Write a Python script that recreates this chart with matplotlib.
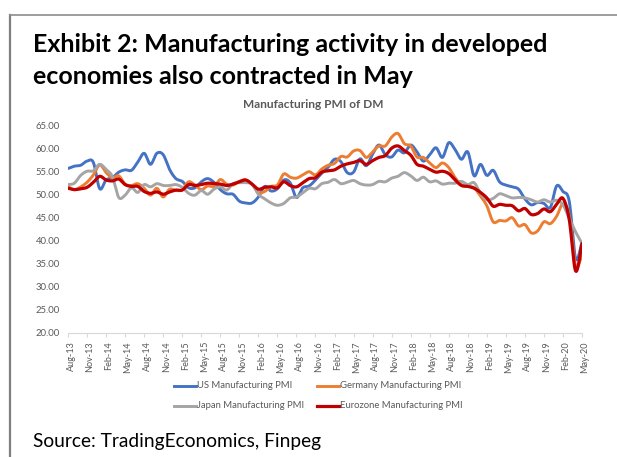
import numpy as np
import matplotlib
matplotlib.use("Agg")
import matplotlib.pyplot as plt
from matplotlib.lines import Line2D
from matplotlib.transforms import ScaledTranslation

# Monthly manufacturing PMI readings, Aug-13 .. May-20
us_pmi = [55.7, 56.2, 56.4, 57.3, 57.0,
          51.3, 53.2, 53.7, 54.9, 55.4, 55.3, 57.1, 59.0, 56.6, 59.0, 58.7, 55.5,
          53.5, 52.9, 51.5, 51.5, 52.8, 53.5, 52.7, 51.1, 50.2, 50.1, 48.6, 48.2,
          48.2, 49.5, 51.8, 50.8, 51.3, 53.2, 52.6, 49.4, 51.5, 51.9, 53.2, 54.7,
          56.0, 57.7, 57.2, 54.8, 54.9, 57.8, 56.3, 58.8, 60.8, 58.7, 58.2, 59.7,
          59.1, 60.8, 59.3, 57.3, 58.7, 60.2, 58.1, 61.3, 59.8, 57.7, 59.3, 54.1,
          56.6, 54.2, 55.3, 52.8, 52.1, 51.7, 51.2, 49.1, 47.8, 48.3, 48.1, 47.2,
          51.9, 50.7, 48.5, 36.1, 39.8]

germany_pmi = [51.8, 51.1, 51.7, 52.7, 54.3,
               56.5, 54.8, 53.7, 54.1, 52.3, 52.0, 52.4, 51.4, 49.9, 51.4, 49.5, 51.2,
               50.9, 51.1, 52.8, 52.1, 51.1, 51.9, 51.8, 53.3, 52.3, 52.1, 52.9, 53.2,
               52.3, 50.5, 50.7, 51.8, 52.1, 54.5, 53.8, 53.6, 54.3, 55.0, 54.3, 55.6,
               56.4, 56.8, 58.3, 58.2, 59.5, 59.6, 58.1, 59.3, 60.6, 60.6, 62.5, 63.3,
               61.1, 60.6, 58.2, 58.1, 56.9, 55.9, 56.9, 55.9, 53.7, 52.2, 51.8, 51.5,
               49.7, 47.6, 44.1, 44.4, 44.3, 45.0, 43.2, 43.5, 41.7, 42.1, 44.1, 43.7,
               45.3, 48.0, 45.4, 34.5, 37.0]

japan_pmi = [52.2, 52.5, 54.2, 55.1, 55.2,
             56.6, 55.5, 53.9, 49.4, 49.9, 51.5, 50.5, 52.2, 51.7, 52.4, 52.0, 52.0,
             52.2, 51.6, 50.3, 49.9, 50.9, 50.1, 51.2, 51.7, 51.0, 52.4, 52.6, 52.6,
             52.3, 50.1, 49.1, 48.2, 47.7, 48.1, 49.3, 49.5, 50.4, 51.4, 51.3, 52.4,
             52.7, 53.3, 52.4, 52.7, 53.1, 52.4, 52.1, 52.2, 52.9, 52.8, 53.6, 54.0,
             54.8, 54.1, 53.1, 53.8, 52.8, 53.0, 52.3, 52.5, 52.5, 52.9, 52.2, 52.6,
             50.3, 48.9, 49.2, 50.2, 49.8, 49.3, 49.4, 49.3, 48.9, 48.4, 48.9, 48.4,
             48.8, 47.8, 44.8, 41.9, 39.4]

eurozone_pmi = [51.4, 51.1, 51.3, 51.6, 52.7,
                54.0, 53.2, 53.0, 53.4, 52.2, 51.8, 51.8, 50.7, 50.3, 50.6, 50.1, 50.6,
                51.0, 51.0, 52.2, 52.0, 52.2, 52.5, 52.4, 52.3, 52.0, 52.3, 52.8, 53.2,
                52.3, 51.2, 51.6, 51.7, 51.5, 52.8, 52.0, 51.7, 52.6, 53.5, 53.7, 54.9,
                55.2, 55.4, 56.2, 56.7, 57.0, 57.4, 56.6, 57.4, 58.1, 58.5, 60.1, 60.6,
                59.6, 58.6, 56.6, 56.2, 55.5, 54.9, 55.1, 54.6, 53.2, 52.0, 51.8, 51.4,
                50.5, 49.3, 47.5, 47.9, 47.7, 47.6, 46.5, 47.0, 45.7, 45.9, 46.9, 46.3,
                47.9, 49.2, 44.5, 33.4, 39.4]

tick_labels = ["Aug-13", "Nov-13", "Feb-14", "May-14", "Aug-14", "Nov-14", "Feb-15",
               "May-15", "Aug-15", "Nov-15", "Feb-16", "May-16", "Aug-16", "Nov-16",
               "Feb-17", "May-17", "Aug-17", "Nov-17", "Feb-18", "May-18", "Aug-18",
               "Nov-18", "Feb-19", "May-19", "Aug-19", "Nov-19", "Feb-20", "May-20"]

series = [
    ("US Manufacturing PMI", us_pmi, "#4472C4", 2.1),
    ("Germany Manufacturing PMI", germany_pmi, "#ED7D31", 2.1),
    ("Japan Manufacturing PMI", japan_pmi, "#A5A5A5", 2.1),
    ("Eurozone Manufacturing PMI", eurozone_pmi, "#C00000", 2.3),
]

FONT = ["Lato", "DejaVu Sans"]
plt.rcParams["font.family"] = FONT
GREY_TXT = "#595959"


def smooth_curve(values, steps=12):
    """Catmull-Rom style smoothed path through monthly points."""
    y = np.asarray(values, dtype=float)
    x = np.arange(len(y), dtype=float)
    px = np.concatenate([[x[0]], x, [x[-1]]])
    py = np.concatenate([[y[0]], y, [y[-1]]])
    t = np.linspace(0, 1, steps, endpoint=False)[:, None]
    xs, ys = [], []
    for i in range(len(y) - 1):
        p0, p1, p2, p3 = [np.array([px[i + k], py[i + k]]) for k in range(4)]
        c1 = p1 + (p2 - p0) / 6.0
        c2 = p2 - (p3 - p1) / 6.0
        pts = ((1 - t) ** 3) * p1 + 3 * ((1 - t) ** 2) * t * c1 \
            + 3 * (1 - t) * (t ** 2) * c2 + (t ** 3) * p2
        xs.append(pts[:, 0])
        ys.append(pts[:, 1])
    xs.append([x[-1]])
    ys.append([y[-1]])
    return np.concatenate(xs), np.concatenate(ys)


W, H = 617, 457
fig = plt.figure(figsize=(W / 100, H / 100), dpi=100)
fig.patch.set_facecolor("white")

# outer frame (left and top edges)
fig.add_artist(Line2D([10.5 / W, 10.5 / W], [0, 1 - 15 / H], transform=fig.transFigure,
                      color="#7F7F7F", lw=1.6))
fig.add_artist(Line2D([10.5 / W, 1], [1 - 15 / H, 1 - 15 / H], transform=fig.transFigure,
                      color="#8C8C8C", lw=1.2))

# heading
fig.text(33 / W, 1 - 45 / H, "Exhibit 2: Manufacturing activity in developed",
         fontsize=18, fontweight="bold", color="black", va="center", ha="left")
fig.text(33 / W, 1 - 77 / H, "economies also contracted in May",
         fontsize=18, fontweight="bold", color="black", va="center", ha="left")

# chart title
fig.text(313 / W, 1 - 105 / H, "Manufacturing PMI of DM", fontsize=8.6,
         fontweight="bold", color=GREY_TXT, ha="center", va="center")

ax = fig.add_axes([68 / W, (H - 332.7) / H, (582 - 68) / W, 207 / H])
ax.set_facecolor("white")

for name, vals, color, lw in series:
    xs, ys = smooth_curve(vals)
    ax.plot(xs, ys, color=color, lw=lw, solid_capstyle="round", solid_joinstyle="round")

ax.set_xlim(0, len(us_pmi) - 1)
ax.set_ylim(20, 65)

yticks = np.arange(20, 66, 5)
ax.set_yticks(yticks)
ax.set_yticklabels([f"{v:.2f}" for v in yticks], fontsize=6.8, color=GREY_TXT)
ax.tick_params(axis="y", length=0, pad=6)

xt = np.arange(0, len(us_pmi), 3)
ax.set_xticks(xt)
ax.set_xticklabels(tick_labels, rotation=90, fontsize=6.5, color=GREY_TXT)
ax.tick_params(axis="x", length=3, color="#D9D9D9", width=0.8, pad=3)
shift = ScaledTranslation(3 / 100, 0, fig.dpi_scale_trans)
for lab in ax.get_xticklabels():
    lab.set_transform(lab.get_transform() + shift)

for side in ("top", "right", "left"):
    ax.spines[side].set_visible(False)
ax.spines["bottom"].set_color("#D9D9D9")
ax.spines["bottom"].set_linewidth(0.8)

# legend, two rows of two entries
legend_pos = [(174, 386), (317, 386), (174, 406), (317, 406)]
for (name, vals, color, lw), (lx, ly) in zip(series, legend_pos):
    yf = 1 - ly / H
    fig.add_artist(Line2D([lx / W, (lx + 22) / W], [yf, yf], transform=fig.transFigure,
                          color=color, lw=lw))
    fig.text((lx + 23) / W, yf, name, fontsize=6.8, color=GREY_TXT, ha="left", va="center")

# source note
fig.text(33 / W, 1 - 441 / H, "Source: TradingEconomics, Finpeg", fontsize=13.8,
         color="black", ha="left", va="center")

fig.savefig("out.png", dpi=100)
